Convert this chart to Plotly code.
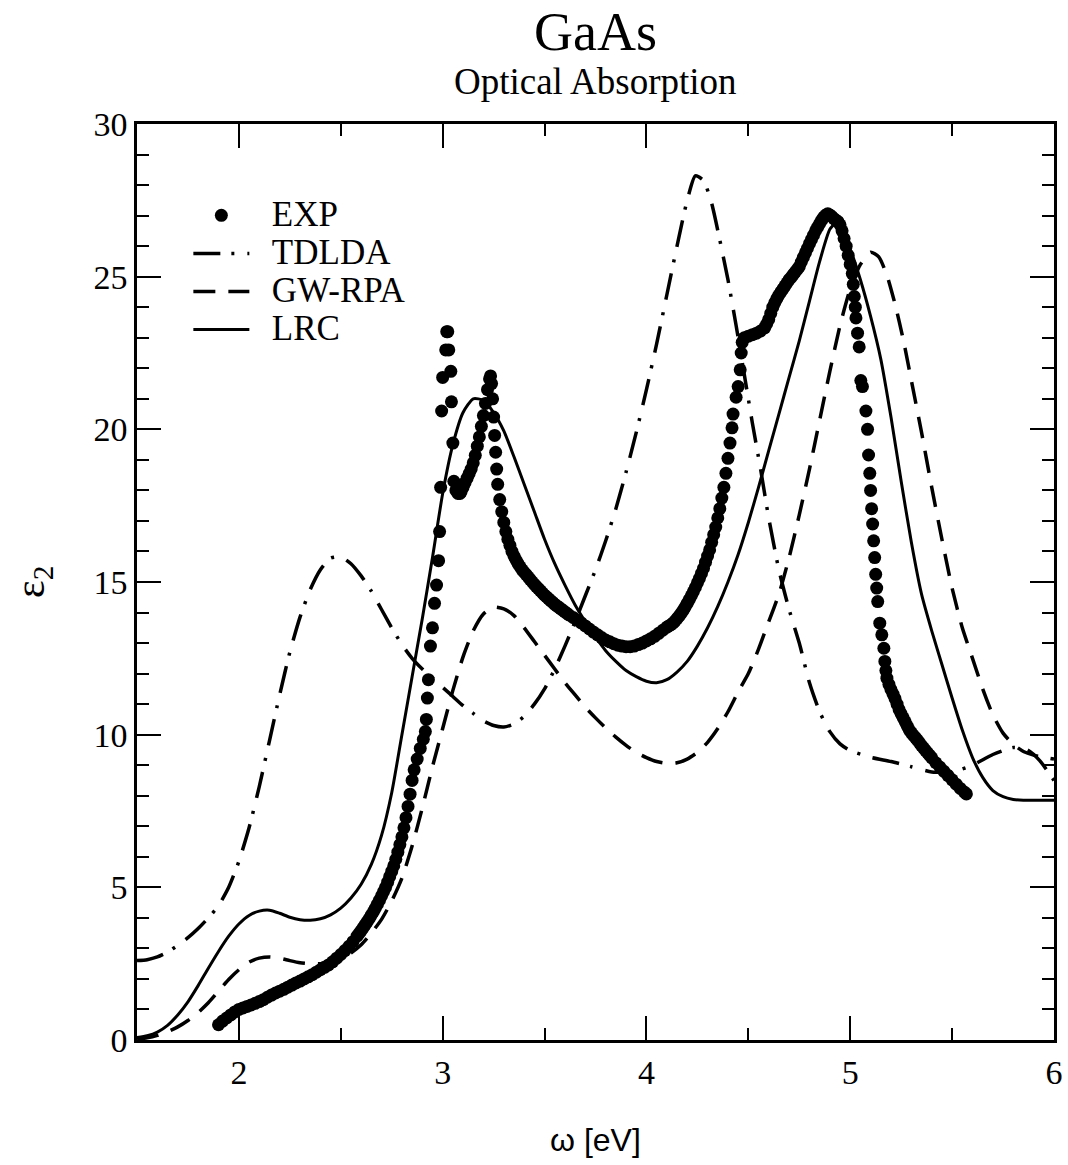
import plotly.graph_objects as go

# ---------------- data ----------------
exp_x = [1.90, 1.92, 1.94, 1.96, 1.98, 2.00, 2.02, 2.04, 2.06, 2.08, 2.10, 2.12, 2.14, 2.16, 2.18,
         2.20, 2.22, 2.24, 2.26, 2.28, 2.30, 2.32, 2.34, 2.36, 2.38, 2.40, 2.42, 2.44, 2.46, 2.48,
         2.50, 2.52, 2.54, 2.56, 2.58,
         2.59, 2.60, 2.61, 2.62, 2.63, 2.64, 2.65, 2.66, 2.67, 2.68, 2.69, 2.70, 2.71, 2.72, 2.73,
         2.74, 2.75, 2.76, 2.77, 2.78, 2.79, 2.80, 2.81, 2.82, 2.83, 2.84, 2.85,
         2.86, 2.875, 2.89, 2.905, 2.915, 2.92, 2.925, 2.93, 2.94, 2.95, 2.96, 2.97, 2.98, 2.985,
         2.99, 2.995, 3.00, 3.015, 3.02, 3.025, 3.03, 3.04, 3.043, 3.05, 3.055, 3.065, 3.075,
         3.085, 3.09, 3.10, 3.11, 3.12, 3.13, 3.14, 3.15, 3.16, 3.17, 3.18, 3.19, 3.20, 3.21, 3.22,
         3.23, 3.235,
         3.24, 3.245, 3.25, 3.255, 3.26, 3.265, 3.27, 3.28, 3.29, 3.30, 3.31, 3.32, 3.33,
         3.34, 3.35, 3.36, 3.37, 3.38, 3.39, 3.40, 3.41, 3.42, 3.43, 3.44, 3.45, 3.46, 3.47, 3.48,
         3.49, 3.50, 3.51, 3.52, 3.53, 3.54, 3.55, 3.56, 3.57, 3.58, 3.59, 3.60, 3.61, 3.62,
         3.64, 3.66, 3.68, 3.70, 3.72, 3.74, 3.76, 3.78, 3.80, 3.82, 3.84, 3.86, 3.88, 3.90, 3.92,
         3.94, 3.96, 3.98, 4.00, 4.02, 4.04, 4.06, 4.08, 4.10,
         4.11, 4.12, 4.13, 4.14, 4.15, 4.16, 4.17, 4.18, 4.19, 4.20, 4.21, 4.22, 4.23, 4.24, 4.25,
         4.26, 4.27, 4.28, 4.29, 4.30, 4.31, 4.32, 4.33, 4.34, 4.35, 4.36, 4.37, 4.38, 4.39,
         4.40, 4.41, 4.42, 4.425, 4.44, 4.45, 4.46, 4.465, 4.47,
         4.48, 4.50, 4.52, 4.54, 4.56, 4.58, 4.59, 4.60, 4.61, 4.62, 4.63, 4.64, 4.65, 4.66, 4.67,
         4.68, 4.69, 4.70, 4.71, 4.72, 4.73, 4.74, 4.75, 4.76, 4.77, 4.78, 4.79, 4.80, 4.81, 4.82,
         4.83, 4.84, 4.85, 4.86, 4.87, 4.88, 4.89, 4.90, 4.91, 4.92, 4.93, 4.94, 4.95, 4.96, 4.97,
         4.98, 4.99, 5.00, 5.01,
         5.015, 5.02, 5.025, 5.028, 5.036, 5.044, 5.052, 5.06, 5.077, 5.085, 5.09, 5.096, 5.10,
         5.105, 5.11, 5.115, 5.12, 5.125, 5.13, 5.135, 5.145, 5.155, 5.165, 5.17, 5.175,
         5.18, 5.19, 5.20, 5.21, 5.22, 5.23, 5.24, 5.25, 5.26, 5.27, 5.28, 5.29, 5.30, 5.31, 5.32,
         5.33, 5.34, 5.35, 5.36, 5.37, 5.38, 5.39, 5.40,
         5.42, 5.44, 5.46, 5.48, 5.50, 5.52, 5.54, 5.56, 5.57]
exp_y = [0.50, 0.62, 0.72, 0.82, 0.92, 1.00, 1.05, 1.10, 1.15, 1.20, 1.26, 1.32, 1.40, 1.47, 1.54,
         1.60, 1.66, 1.73, 1.80, 1.87, 1.93, 2.00, 2.07, 2.14, 2.22, 2.30, 2.38, 2.46, 2.56, 2.68,
         2.80, 2.93, 3.07, 3.22, 3.40,
         3.49, 3.58, 3.68, 3.78, 3.88, 3.98, 4.09, 4.20, 4.32, 4.45, 4.58, 4.72, 4.86, 5.00, 5.17,
         5.35, 5.52, 5.70, 5.92, 6.15, 6.40, 6.65, 6.95, 7.28, 7.65, 8.05, 8.50,
         8.85, 9.20, 9.55, 9.85, 10.1, 10.5, 11.2, 11.8, 12.9, 13.5, 14.3, 14.9, 15.7, 16.65,
         18.1, 20.6, 21.7, 22.6, 23.2, 23.2, 22.6, 21.9, 20.9, 19.55, 18.3, 18.0, 17.9,
         17.9, 17.95, 18.1, 18.25, 18.4, 18.55, 18.7, 18.9, 19.15, 19.45, 19.75, 20.1, 20.45, 20.85, 21.3,
         21.65, 21.75,
         21.5, 21.0, 20.4, 19.8, 19.25, 18.7, 18.2, 17.7, 17.3, 16.95, 16.65, 16.4, 16.2,
         16.0, 15.85, 15.72, 15.6, 15.5, 15.4, 15.32, 15.24, 15.16, 15.08, 15.0, 14.92, 14.85, 14.78, 14.71,
         14.64, 14.57, 14.51, 14.45, 14.39, 14.33, 14.27, 14.22, 14.17, 14.12, 14.07, 14.02, 13.97, 13.92,
         13.84, 13.75, 13.66, 13.56, 13.46, 13.36, 13.27, 13.18, 13.1, 13.04, 12.98, 12.93, 12.9, 12.88, 12.88,
         12.9, 12.95, 13.0, 13.07, 13.14, 13.22, 13.32, 13.42, 13.52,
         13.56, 13.6, 13.65, 13.72, 13.8, 13.88, 13.97, 14.07, 14.18, 14.3, 14.42, 14.55, 14.68, 14.82, 14.97,
         15.12, 15.28, 15.45, 15.65, 15.85, 16.05, 16.3, 16.55, 16.8, 17.1, 17.4, 17.75, 18.1, 18.56,
         19.05, 19.55, 20.05, 20.5, 21.05, 21.4, 21.95, 22.5, 22.85,
         23.0, 23.05, 23.1, 23.15, 23.22, 23.32, 23.45, 23.6, 23.8, 24.0, 24.15, 24.28, 24.4, 24.5, 24.6,
         24.7, 24.8, 24.9, 24.98, 25.07, 25.15, 25.24, 25.33, 25.48, 25.63, 25.78, 25.93, 26.08, 26.22, 26.36,
         26.5, 26.62, 26.74, 26.85, 26.95, 27.02, 27.06, 27.02, 26.97, 26.9, 26.85, 26.8, 26.7, 26.5, 26.25,
         26.0, 25.7, 25.4, 25.1,
         24.75, 24.35, 24.0, 23.65, 23.15, 22.7, 21.6, 21.4, 20.6, 20.0, 19.16, 18.56, 18.0,
         17.4, 16.9, 16.35, 15.8, 15.25, 14.8, 14.36, 13.65, 13.27, 12.83, 12.4, 12.1,
         11.85, 11.65, 11.48, 11.33, 11.18, 11.0, 10.82, 10.68, 10.55, 10.42, 10.28, 10.15, 10.06, 9.98, 9.9,
         9.82, 9.73, 9.64, 9.56, 9.48, 9.4, 9.32, 9.24,
         9.08, 8.94, 8.8, 8.66, 8.52, 8.38, 8.24, 8.12, 8.06]

tdlda_x = [1.50, 1.55, 1.60, 1.65, 1.70, 1.75, 1.80, 1.85, 1.90, 1.95, 2.00, 2.05, 2.10, 2.15, 2.20,
           2.25, 2.30, 2.35, 2.40, 2.45, 2.50, 2.55, 2.60, 2.65, 2.70, 2.75, 2.80, 2.85, 2.90, 2.95,
           3.00, 3.05, 3.10, 3.15, 3.20, 3.25, 3.30, 3.35, 3.40, 3.45, 3.50, 3.55, 3.60, 3.65, 3.70,
           3.75, 3.80, 3.85, 3.90, 3.95, 4.00, 4.05, 4.10, 4.15, 4.20, 4.24, 4.28, 4.32, 4.36, 4.40,
           4.44, 4.48, 4.52, 4.56, 4.60, 4.65, 4.70, 4.75, 4.80, 4.85, 4.90, 4.95, 5.00, 5.10, 5.20,
           5.30, 5.40, 5.50, 5.60, 5.70, 5.80, 5.87, 5.93, 6.00]
tdlda_y = [2.60, 2.63, 2.72, 2.88, 3.10, 3.35, 3.65, 4.00, 4.40, 5.00, 5.85, 6.95, 8.30, 9.80, 11.3,
           12.7, 13.85, 14.75, 15.4, 15.78, 15.82, 15.6, 15.2, 14.7, 14.1, 13.5, 12.95, 12.5, 12.15, 11.85,
           11.55, 11.25, 10.95, 10.7, 10.45, 10.3, 10.25, 10.35, 10.6, 11.0, 11.5, 12.15, 12.9, 13.7, 14.55,
           15.4, 16.35, 17.4, 18.6, 19.9, 21.3, 22.8, 24.4, 26.0, 27.5, 28.3, 28.15, 27.4, 26.2, 24.9,
           23.4, 21.8, 20.2, 18.7, 17.1, 15.4, 14.1, 13.0, 11.7, 10.75, 10.1, 9.7, 9.48, 9.26, 9.12,
           8.95, 8.78, 8.78, 9.0, 9.35, 9.58, 9.5, 9.15, 8.5]

gwrpa_x = [1.50, 1.55, 1.60, 1.65, 1.70, 1.75, 1.80, 1.85, 1.90, 1.95, 2.00, 2.05, 2.10, 2.15, 2.20,
           2.25, 2.30, 2.35, 2.40, 2.45, 2.50, 2.55, 2.60, 2.65, 2.70, 2.75, 2.80, 2.85, 2.90, 2.95,
           3.00, 3.05, 3.10, 3.15, 3.20, 3.25, 3.30, 3.35, 3.40, 3.45, 3.50, 3.55, 3.60, 3.65, 3.70,
           3.75, 3.80, 3.85, 3.90, 3.95, 4.00, 4.05, 4.10, 4.15, 4.20, 4.25, 4.30, 4.35, 4.40, 4.45,
           4.50, 4.55, 4.60, 4.65, 4.70, 4.75, 4.80, 4.85, 4.90, 4.95, 5.00, 5.05, 5.10, 5.14, 5.18,
           5.22, 5.26, 5.30, 5.35, 5.40, 5.45, 5.50, 5.55, 5.60, 5.65, 5.70, 5.75, 5.80, 5.85, 5.90,
           5.95, 6.00]
gwrpa_y = [0.03, 0.07, 0.15, 0.27, 0.43, 0.64, 0.90, 1.22, 1.60, 1.98, 2.30, 2.55, 2.68, 2.72, 2.68,
           2.60, 2.53, 2.50, 2.50, 2.55, 2.66, 2.85, 3.12, 3.50, 3.95, 4.55, 5.30, 6.35, 7.60, 8.95,
           10.2, 11.45, 12.55, 13.4, 13.95, 14.18, 14.12, 13.9, 13.5, 13.05, 12.6, 12.15, 11.7, 11.3, 10.9,
           10.55, 10.22, 9.92, 9.65, 9.42, 9.25, 9.12, 9.06, 9.08, 9.2, 9.42, 9.75, 10.2, 10.75, 11.4,
           12.0, 12.8, 13.7, 14.6, 15.8, 17.2, 18.7, 20.3, 21.9, 23.4, 24.6, 25.4, 25.8, 25.65, 25.05,
           24.1, 22.95, 21.6, 19.9, 18.1, 16.4, 14.8, 13.5, 12.5, 11.5, 10.65, 10.05, 9.68, 9.45, 9.33,
           9.26, 9.2]

lrc_x = [1.50, 1.55, 1.60, 1.65, 1.70, 1.75, 1.80, 1.85, 1.90, 1.95, 2.00, 2.05, 2.10, 2.15, 2.20,
         2.25, 2.30, 2.35, 2.40, 2.45, 2.50, 2.55, 2.60, 2.65, 2.70, 2.75, 2.80, 2.85, 2.90, 2.95,
         3.00, 3.05, 3.10, 3.15, 3.20, 3.25, 3.30, 3.35, 3.40, 3.45, 3.50, 3.55, 3.60, 3.65, 3.70,
         3.75, 3.80, 3.85, 3.90, 3.95, 4.00, 4.05, 4.10, 4.15, 4.20, 4.25, 4.30, 4.35, 4.40, 4.45,
         4.50, 4.55, 4.60, 4.65, 4.70, 4.75, 4.80, 4.85, 4.90, 4.93, 4.96, 5.00, 5.05, 5.10, 5.15,
         5.20, 5.25, 5.30, 5.35, 5.40, 5.45, 5.50, 5.55, 5.60, 5.65, 5.70, 5.75, 5.80, 5.85, 5.90,
         6.00]
lrc_y = [0.08, 0.14, 0.26, 0.48, 0.82, 1.25, 1.78, 2.35, 2.90, 3.40, 3.80, 4.08, 4.22, 4.25, 4.15,
         4.02, 3.94, 3.92, 3.97, 4.10, 4.32, 4.65, 5.10, 5.75, 6.70, 8.10, 10.0, 11.9, 13.8, 15.8,
         17.9, 19.5, 20.55, 21.0, 20.95, 20.55, 19.95, 19.1, 18.2, 17.3, 16.4, 15.6, 14.9, 14.25, 13.7,
         13.2, 12.75, 12.4, 12.1, 11.9, 11.75, 11.7, 11.8, 12.05, 12.4, 12.9, 13.5, 14.2, 15.0, 15.9,
         16.95, 18.1, 19.3, 20.5, 21.7, 22.9, 24.2, 25.5, 26.55, 26.75, 26.5, 25.9, 24.9, 23.7, 22.3,
         20.4, 18.3, 16.3, 14.6, 13.4, 12.3, 11.2, 10.15, 9.25, 8.6, 8.17, 7.97, 7.88, 7.85, 7.85,
         7.85]

series_names = ["EXP", "TDLDA", "GW-RPA", "LRC"]
x_tickvals = [2, 3, 4, 5, 6]
y_tickvals = [0, 5, 10, 15, 20, 25, 30]

SERIF = "Liberation Serif, Times New Roman, serif"
SANS = "Liberation Sans, Arial, sans-serif"


def legend_label(name):
    return '<span style="font-size:35px">\u00a0\u00a0' + name + '</span>'


fig = go.Figure()
fig.add_trace(go.Scatter(x=exp_x, y=exp_y, mode="markers", name=legend_label(series_names[0]),
                         marker=dict(color="black", size=13, line=dict(width=0))))
fig.add_trace(go.Scatter(x=tdlda_x, y=tdlda_y, mode="lines", name=legend_label(series_names[1]),
                         line=dict(color="black", width=3.5, dash="27px,11px,3px,13px",
                                   shape="spline", smoothing=0.6)))
fig.add_trace(go.Scatter(x=gwrpa_x, y=gwrpa_y, mode="lines", name=legend_label(series_names[2]),
                         line=dict(color="black", width=3.5, dash="22px,13px",
                                   shape="spline", smoothing=0.6)))
fig.add_trace(go.Scatter(x=lrc_x, y=lrc_y, mode="lines", name=legend_label(series_names[3]),
                         line=dict(color="black", width=3, shape="spline", smoothing=0.6)))

axis_common = dict(
    showline=True, linecolor="black", linewidth=2.5, mirror="ticks",
    ticks="inside", ticklen=24, tickwidth=2, tickcolor="black",
    showgrid=False, zeroline=False, automargin=False,
    tickfont=dict(family=SERIF, size=34, color="black"),
)
fig.update_xaxes(range=[1.5, 6], tickvals=x_tickvals, ticklabeloverflow="allow", **axis_common,
                 minor=dict(ticks="inside", ticklen=12, tickwidth=2, tickcolor="black", dtick=0.5, showgrid=False))
fig.update_yaxes(range=[0, 30], tickvals=y_tickvals, **axis_common,
                 minor=dict(ticks="inside", ticklen=12, tickwidth=2, tickcolor="black", dtick=1, showgrid=False))

fig.update_layout(
    width=1068, height=1165,
    margin=dict(l=137, r=14, t=124, b=125),
    plot_bgcolor="white", paper_bgcolor="white",
    showlegend=True,
    legend=dict(x=0.056, y=0.9266, xanchor="left", yanchor="top",
                bgcolor="rgba(0,0,0,0)", borderwidth=0,
                font=dict(family=SERIF, size=27, color="black"),
                itemwidth=56, tracegroupgap=0),
    annotations=[
        dict(text="GaAs", x=0.5, y=1.1004, xref="paper", yref="paper", showarrow=False,
             xanchor="center", yanchor="middle",
             font=dict(family=SERIF, size=54, color="black")),
        dict(text="Optical Absorption", x=0.5, y=1.046, xref="paper", yref="paper", showarrow=False,
             xanchor="center", yanchor="middle", font=dict(family=SERIF, size=37, color="black")),
        dict(text="ω [eV]", x=0.5, y=-0.109, xref="paper", yref="paper", showarrow=False,
             xanchor="center", yanchor="middle", font=dict(family=SANS, size=32, color="black")),
        dict(text="ε<sub>2</sub>", x=-0.1134, y=0.50, xref="paper", yref="paper", showarrow=False,
             xanchor="center", yanchor="middle", textangle=-90,
             font=dict(family=SERIF, size=42, color="black")),
    ],
)

fig.write_html("out.html", config={"displayModeBar": False},
               post_script="document.body.style.margin='0px';")
